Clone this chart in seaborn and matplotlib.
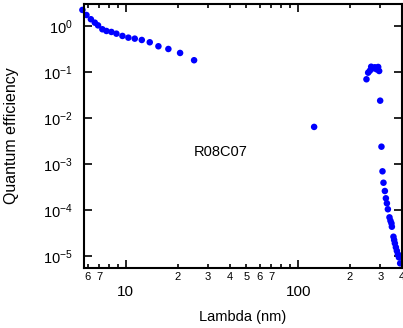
import numpy as np
import pandas as pd
import seaborn as sns
import matplotlib
matplotlib.use("Agg")
import matplotlib.pyplot as plt
from matplotlib.ticker import FixedLocator, FuncFormatter, NullFormatter

# Data
lam_short = [5.6, 5.91, 6.27, 6.61, 6.90, 7.31, 7.72, 8.25, 8.82, 9.56, 10.35,
             11.27, 12.38, 13.77, 15.46, 17.66, 20.65, 24.9]
qe_short = [2.23, 1.73, 1.40, 1.18, 1.03, 0.848, 0.778, 0.741, 0.68, 0.607, 0.557,
            0.530, 0.496, 0.442, 0.362, 0.316, 0.259, 0.180]
lam_mid = [123.8]
qe_mid = [6.4e-3]
lam_long = [249.1, 254.8, 260.7, 265.3, 271.4, 278.7, 284.8, 291.3, 295.2, 299.2,
            304.4, 308.6, 312.7, 318.6, 322.9, 327.3, 331.6, 338.8, 343.3, 347.9,
            349.8, 357.3, 360.6, 364.1, 369.0, 373.9, 379.0, 384.1, 390.8]
qe_long = [0.0694, 0.0966, 0.1067, 0.130, 0.120, 0.1265, 0.1145, 0.1285, 0.105,
           0.0238, 2.38e-3, 6.94e-4, 3.92e-4, 2.59e-4, 1.80e-4, 1.40e-4, 1.04e-4,
           6.94e-5, 5.85e-5, 5.14e-5, 4.34e-5, 2.63e-5, 2.23e-5, 1.89e-5, 1.55e-5,
           1.30e-5, 1.10e-5, 9.37e-6, 6.94e-6]

major_x = [10, 100]
minor_x = [6, 7, 8, 9, 20, 30, 40, 50, 60, 70, 80, 90, 200, 300, 400]
minor_x_labels = {6: "6", 7: "7", 20: "2", 30: "3", 40: "4", 50: "5", 60: "6",
                  70: "7", 200: "2", 300: "3", 400: "4"}
y_decades = [1e0, 1e-1, 1e-2, 1e-3, 1e-4, 1e-5]
label_text = "R08C07"

df = pd.DataFrame({
    "lam": lam_short + lam_mid + lam_long,
    "qe": qe_short + qe_mid + qe_long,
})

sns.set_style("ticks")
plt.rcParams["font.family"] = ["Liberation Sans", "DejaVu Sans"]
plt.rcParams["mathtext.default"] = "regular"
plt.rcParams["text.color"] = "black"
plt.rcParams["axes.labelcolor"] = "black"
plt.rcParams["xtick.color"] = "black"
plt.rcParams["ytick.color"] = "black"

fig = plt.figure(figsize=(4.03, 3.28), dpi=100)
ax = fig.add_axes([84 / 403, 60 / 328, 318 / 403, 264 / 328])

sns.scatterplot(data=df, x="lam", y="qe", ax=ax, color="#0000ff",
                s=22, edgecolor="none", linewidth=0, clip_on=False)

ax.set_xscale("log")
ax.set_yscale("log")
ax.set_xlim(5.72, 400.5)
ax.set_ylim(5.5e-6, 3.0)

ax.xaxis.set_major_locator(FixedLocator(major_x))
ax.xaxis.set_major_formatter(FuncFormatter(lambda v, p: f"{int(round(v))}"))
ax.xaxis.set_minor_locator(FixedLocator(minor_x))
ax.xaxis.set_minor_formatter(
    FuncFormatter(lambda v, p: minor_x_labels.get(int(round(v)), "")))

ax.yaxis.set_major_locator(FixedLocator(y_decades))
ax.yaxis.set_major_formatter(
    FuncFormatter(lambda v, p: r"$10^{%d}$" % int(round(np.log10(v)))))
ax.yaxis.set_minor_locator(FixedLocator([]))
ax.yaxis.set_minor_formatter(NullFormatter())

for s in ax.spines.values():
    s.set_linewidth(1.5)
    s.set_color("black")

ax.tick_params(axis="both", which="both", direction="in", top=True, right=True,
               color="black", labelcolor="black", width=1.2)
ax.tick_params(axis="x", which="major", length=6, pad=12, labelsize=11)
ax.tick_params(axis="x", which="minor", length=3, pad=3, labelsize=8)
ax.tick_params(axis="y", which="major", length=6, pad=8, labelsize=10.5)

ax.set_xlabel("Lambda (nm)", fontsize=10.5, labelpad=8, color="black")
ax.set_ylabel("Quantum efficiency", fontsize=11.5, color="black")
ax.yaxis.set_label_coords(-0.205, 0.5)

ax.text(35.7, 1.82e-3, label_text, fontsize=10.5, ha="center", va="center",
        color="black")

ax.grid(False)
fig.savefig("out.png", dpi=100)
